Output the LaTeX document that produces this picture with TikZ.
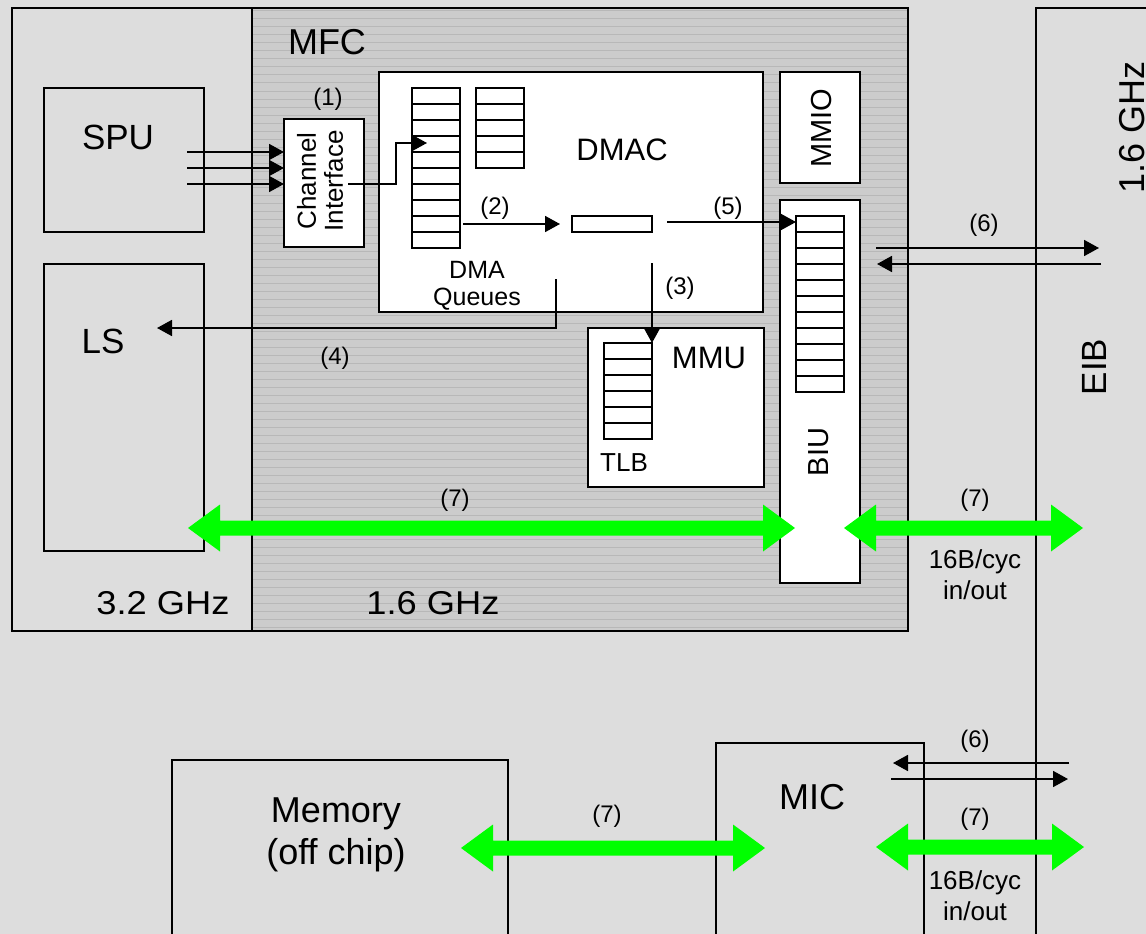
\documentclass[tikz,border=0pt]{standalone}
\usepackage{fontspec}
\setmainfont{Liberation Sans}
\usetikzlibrary{arrows.meta,calc}
\definecolor{bgc}{RGB}{221,221,221}
\definecolor{mfcc}{RGB}{204,204,204}
\definecolor{mfcl}{RGB}{184,184,184}
\definecolor{grn}{RGB}{0,255,0}
\newcommand{\fs}[1]{\fontsize{#1}{#1}\selectfont}
\newcommand{\dblarrow}[2]{%
  \fill[grn] (#1) -- ($(#1)+(32,-23.5)$) -- ($(#1)+(32,-7.5)$) -- ($(#2)+(-32,-7.5)$) -- ($(#2)+(-32,-23.5)$) -- (#2)
    -- ($(#2)+(-32,23.5)$) -- ($(#2)+(-32,7.5)$) -- ($(#1)+(32,7.5)$) -- ($(#1)+(32,23.5)$) -- cycle;}
\begin{document}
\begin{tikzpicture}[x=1pt,y=-1pt,
  box/.style={draw=black,line width=2pt,anchor=north west,inner sep=0pt,outer sep=0pt},
  wbox/.style={box,fill=white},
  gbox/.style={box,fill=bgc},
  txt/.style={inner sep=0pt,outer sep=0pt,text=black,align=center},
  conn/.style={line width=1.8pt,-{Triangle[length=15pt,width=16pt]}},
]
\fill[bgc] (0,0) rectangle (1146,934);
\useasboundingbox (0,0) rectangle (1146,934);

% outer regions
\node[gbox,minimum width=240,minimum height=623] (spe) at (12,8) {};
\node[box,fill=mfcc,minimum width=656,minimum height=623] (mfc) at (252,8) {};
\begin{scope}
  \clip (253,9) rectangle (907,630);
  \foreach \yy in {11,19,...,631} \draw[mfcl,line width=1pt] (252,\yy) -- (908,\yy);
\end{scope}
\draw[line width=2pt] (mfc.north west) rectangle (mfc.south east);
\node[gbox,minimum width=140,minimum height=960] (eib) at (1036,8) {};

% SPE contents
\node[gbox,minimum width=160,minimum height=144] (spu) at (44,88) {};
\node[gbox,minimum width=160,minimum height=287] (ls) at (44,264) {};

% MFC contents
\node[wbox,minimum width=80,minimum height=128] (chi) at (284,119) {};
\node[wbox,minimum width=384,minimum height=240] (dmac) at (379,72) {};
\node[wbox,minimum width=48,minimum height=160] (q1) at (412,88) {};
\foreach \i in {1,...,9} \draw[line width=2pt] ($(q1.north west)+(0,16*\i)$) -- ++(48,0);
\node[wbox,minimum width=48,minimum height=80] (q2) at (476,88) {};
\foreach \i in {1,...,4} \draw[line width=2pt] ($(q2.north west)+(0,16*\i)$) -- ++(48,0);
\node[wbox,minimum width=80,minimum height=16] (sr) at (572,216) {};
\node[wbox,minimum width=80,minimum height=111] (mmio) at (780,72) {};
\node[wbox,minimum width=80,minimum height=383] (biu) at (780,200) {};
\node[wbox,minimum width=48,minimum height=176] (biuq) at (796,216) {};
\foreach \i in {1,...,10} \draw[line width=2pt] ($(biuq.north west)+(0,16*\i)$) -- ++(48,0);
\node[wbox,minimum width=176,minimum height=159] (mmu) at (588,328) {};
\node[wbox,minimum width=48,minimum height=96] (tlb) at (604,343) {};
\foreach \i in {1,...,5} \draw[line width=2pt] ($(tlb.north west)+(0,16*\i)$) -- ++(48,0);

% off-chip
\node[gbox,minimum width=336,minimum height=220] (mem) at (172,760) {};
\node[gbox,minimum width=208,minimum height=237] (mic) at (716,743) {};

% connectors
\coordinate (s1) at (187,152);
\coordinate (s2) at (187,168);
\coordinate (s3) at (187,184);
\draw[conn] (s1) -- (s1 -| chi.west);
\draw[conn] (s2) -- (s2 -| chi.west);
\draw[conn] (s3) -- (s3 -| chi.west);
\coordinate (c0) at (348,184);
\coordinate (qin) at (427,143);
\draw[conn] (c0) -- (396,184) -- (396,143) -- (qin);
\coordinate (d2s) at (463,224);
\coordinate (d2e) at (560,224);
\draw[conn] (d2s) -- (d2e);
\coordinate (d5s) at (667,222);
\draw[line width=1.4pt,-{Triangle[length=15pt,width=16pt]}] (d5s) -- (d5s -| biuq.west);
\coordinate (d3s) at (652,263);
\draw[conn] (d3s) -- (d3s |- tlb.north);
\coordinate (d4s) at (556,279);
\coordinate (d4e) at (157,328);
\draw[conn] (d4s) -- (556,328) -- (d4e);
\coordinate (a6s) at (876,248);
\coordinate (a6e) at (1099,248);
\coordinate (b6s) at (1101,264);
\coordinate (b6e) at (877,264);
\draw[conn] (a6s) -- (a6e);
\draw[conn] (b6s) -- (b6e);
\coordinate (c6s) at (1069,763);
\coordinate (c6e) at (893,763);
\coordinate (e6s) at (891,779);
\coordinate (e6e) at (1068,779);
\draw[conn] (c6s) -- (c6e);
\draw[conn] (e6s) -- (e6e);

% green arrows
\coordinate (g1l) at (188,528);
\coordinate (g1r) at (795,528);
\coordinate (g2l) at (844,528);
\coordinate (g2r) at (1083,528);
\coordinate (g3l) at (461,848);
\coordinate (g3r) at (765,848);
\coordinate (g4l) at (876,847);
\coordinate (g4r) at (1084,847);
\dblarrow{g1l}{g1r}
\dblarrow{g2l}{g2r}
\dblarrow{g3l}{g3r}
\dblarrow{g4l}{g4r}

% texts
\node[txt,font=\fs{36}] (tmfc) at (327,42) {MFC};
\node[txt,font=\fs{35}] (tspu) at (118,137) {SPU};
\node[txt,font=\fs{35}] (tls) at (103,341) {LS};
\node[txt,font=\fs{24}] (t1) at (328,99) {(1)};
\node[txt,font=\fontsize{26}{27}\selectfont,rotate=90] (tchi) at (320,181) {Channel\\Interface};
\node[txt,font=\fs{31}] (tdmac) at (622,150) {DMAC};
\node[txt,font=\fs{24}] (t2) at (495,208) {(2)};
\node[txt,font=\fs{24}] (t5) at (728,208) {(5)};
\node[txt,font=\fs{24}] (t3) at (680,288) {(3)};
\node[txt,font=\fs{24}] (t4) at (335,358) {(4)};
\node[txt,font=\fontsize{25}{27}\selectfont] (tdq) at (477,286) {DMA\\Queues};
\node[txt,font=\fs{29},rotate=90] (tmmio) at (822,128) {MMIO};
\node[txt,font=\fs{31}] (tmmu) at (709,358) {MMU};
\node[txt,font=\fs{26}] (ttlb) at (624,463) {TLB};
\node[txt,font=\fs{29},rotate=90] (tbiu) at (819,452) {BIU};
\node[txt,font=\fs{24}] (t6a) at (984,225) {(6)};
\node[txt,font=\fs{35},rotate=90] (teib) at (1094,367) {EIB};
\node[txt,font=\fs{36},rotate=90,anchor=base] (tghz) at (1144,127) {1.6 GHz};
\node[txt,font=\fs{24}] (t7a) at (455,500) {(7)};
\node[txt,font=\fs{24}] (t7b) at (975,500) {(7)};
\node[txt,font=\fontsize{26}{31}\selectfont] (tbw1) at (975,575) {16B/cyc\\in/out};
\node[txt,font=\fs{33}] (t32) at (163,603) {\scalebox{1.1}[1]{3.2 GHz}};
\node[txt,font=\fs{33}] (t16) at (433,603) {\scalebox{1.1}[1]{1.6 GHz}};
\node[txt,font=\fs{24}] (t6b) at (975,741) {(6)};
\node[txt,font=\fs{36}] (tmic) at (812,797) {MIC};
\node[txt,font=\fontsize{36}{42}\selectfont] (tmem) at (336,835) {Memory\\(off chip)};
\node[txt,font=\fs{24}] (t7c) at (607,816) {(7)};
\node[txt,font=\fs{24}] (t7d) at (975,819) {(7)};
\node[txt,font=\fontsize{26}{31}\selectfont] (tbw2) at (975,896) {16B/cyc\\in/out};
\end{tikzpicture}
\end{document}
